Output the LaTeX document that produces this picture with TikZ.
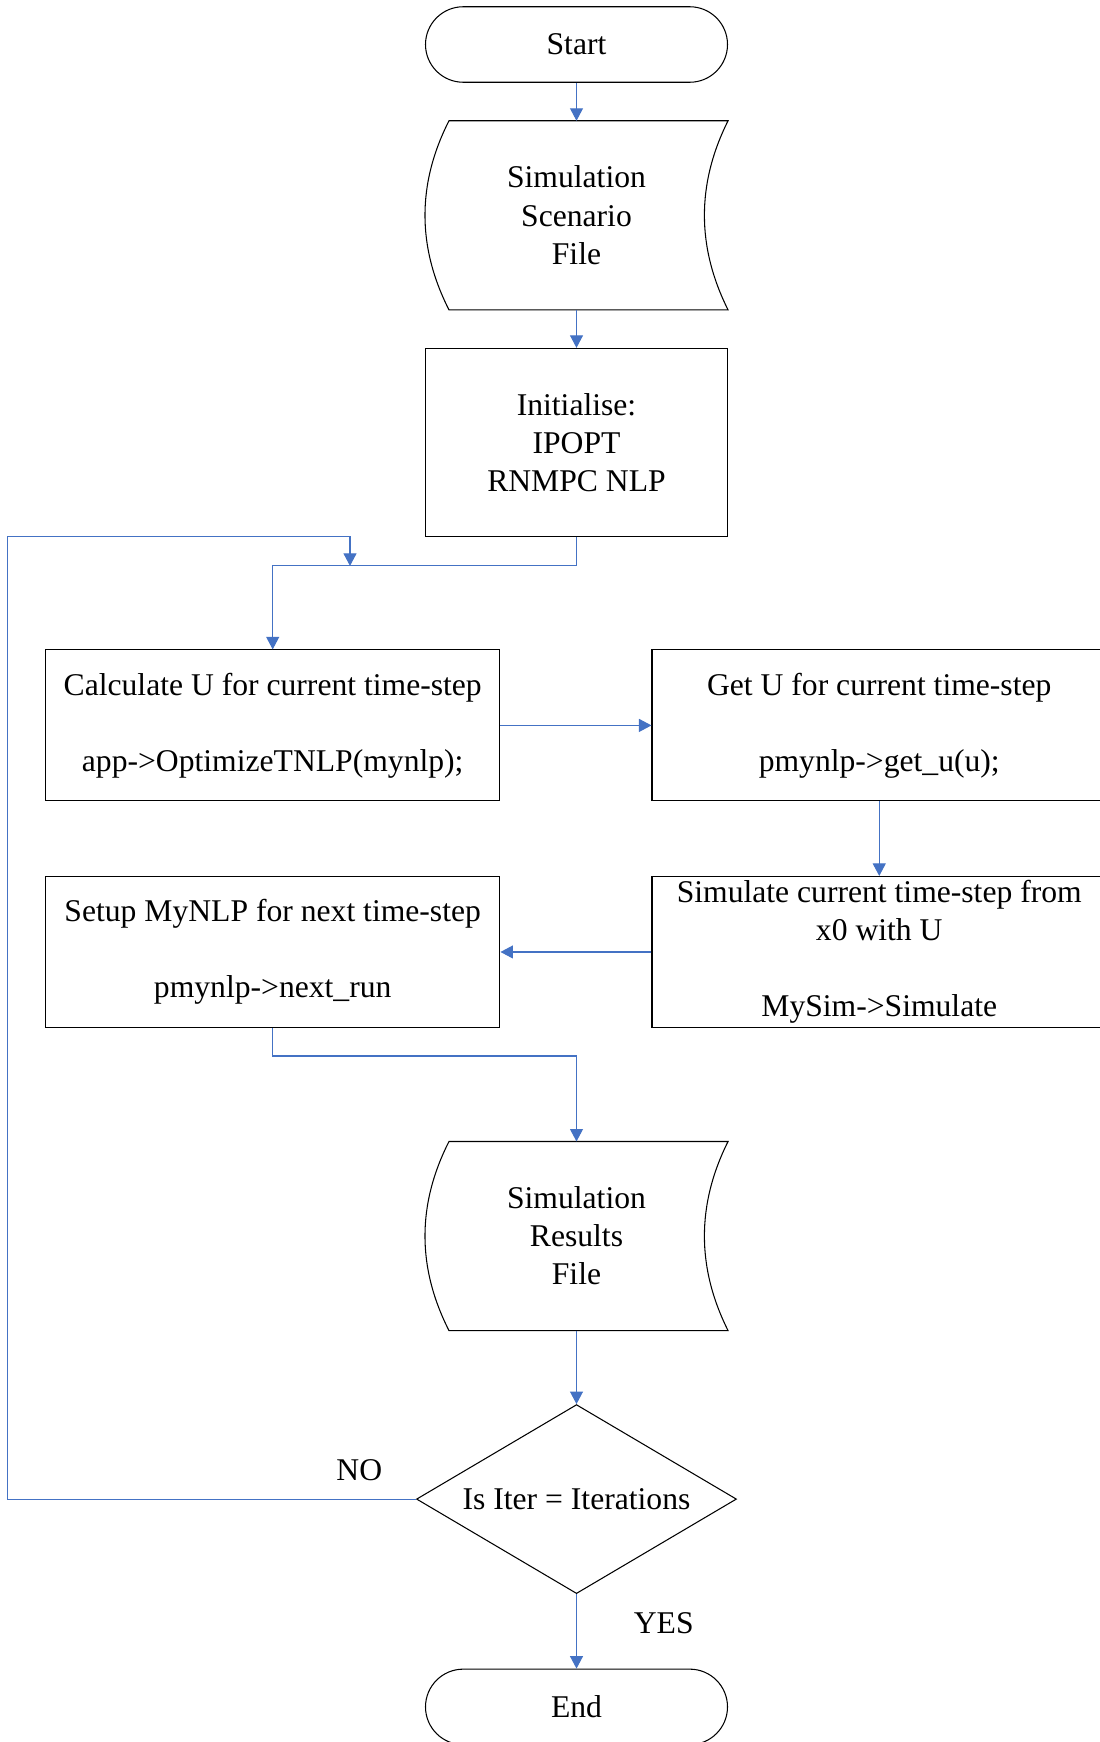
\documentclass[tikz,border=0pt]{standalone}
\usepackage{fontspec}
\setmainfont{Liberation Serif}
\usetikzlibrary{arrows.meta,positioning,shapes.geometric,calc}
\definecolor{flowblue}{RGB}{68,114,196}
\tikzset{
  block/.style={
    draw=black,
    line width=0.6pt,
    align=center,
    minimum width=90.9mm,
    minimum height=30.2mm,
    inner sep=0pt,
    font=\fontsize{18}{21.7}\selectfont
  },
  term/.style={block, rounded corners=7.55mm, minimum width=60.4mm, minimum height=15.1mm},
  store/.style={block, draw=none, minimum width=60.4mm, minimum height=37.6mm},
  decision/.style={block, diamond, aspect=1.69, minimum width=64mm, minimum height=37.8mm},
  tag/.style={inner sep=0pt, font=\fontsize{18}{21.7}\selectfont},
  line/.style={-{Triangle[width=2.6mm,length=2.5mm]}, draw=flowblue, line width=0.6pt}
}
\begin{document}
\begin{tikzpicture}[node distance=14.9mm]
        \useasboundingbox (0,0) rectangle (219.8mm,-348.4mm);
        \node[term] (start) at (115.3mm,-8.9mm) {Start};
        \node[store, below=7.6mm of start] (scen) {Simulation\\Scenario\\File};
        \node[block, below=7.6mm of scen, minimum width=60.4mm, minimum height=37.6mm] (init) {Initialise:\\IPOPT\\RNMPC NLP};
        \node[block, below left=22.5mm and -15.1mm of init] (calc) {Calculate U for current time-step\\[\baselineskip]app->OptimizeTNLP(mynlp);};
        \node[block, right=30.2mm of calc] (getu) {Get U for current time-step\\[\baselineskip]pmynlp->get\_u(u);};
        \node[block, below=of calc] (setup) {Setup MyNLP for next time-step\\[\baselineskip]pmynlp->next\_run};
        \node[block, below=of getu] (sim) {Simulate current time-step from\\x0 with U\\[\baselineskip]MySim->Simulate};
        \node[store, below right=22.7mm and -15.1mm of setup] (res) {Simulation\\Results\\File};
        \node[decision, below=14.7mm of res] (test) {Is Iter = Iterations};
        \node[term, below=of test] (stop) {End};
        \node[tag, above left=3.5mm and 6.7mm of test.west] (no) {NO};
        \node[tag, below right=3.7mm and 11.4mm of test.south] (yes) {YES};
        % file shapes
        \foreach \n in {scen,res}
          \draw[line width=0.6pt] ($(\n.north west)+(4.8mm,0)$) -- (\n.north east)
            .. controls +(-6.3mm,-12.6mm) and +(-6.3mm,12.6mm) .. (\n.south east)
            -- ($(\n.south west)+(4.8mm,0)$)
            .. controls +(-6.4mm,12.6mm) and +(-6.4mm,-12.6mm) .. ($(\n.north west)+(4.8mm,0)$) -- cycle;
        \coordinate (back) at ($(init.south)+(-45.3mm,-5.8mm)$);
        \draw[line] (start) -- (scen);
        \draw[line] (scen) -- (init);
        \draw[line] (init.south) -- ++(0,-5.8mm) -| (calc.north);
        \draw[line] (calc) -- (getu);
        \draw[line] (getu) -- (sim);
        \draw[line] (sim) -- (setup);
        \draw[line] (setup.south) -- ++(0,-5.6mm) -| (res.north);
        \draw[line] (res) -- (test);
        \draw[line] (test) -- (stop);
        \draw[line] (test.west) -| ($(calc.west |- init.south)+(-7.5mm,0)$) -| (back);
      \end{tikzpicture}
\end{document}
